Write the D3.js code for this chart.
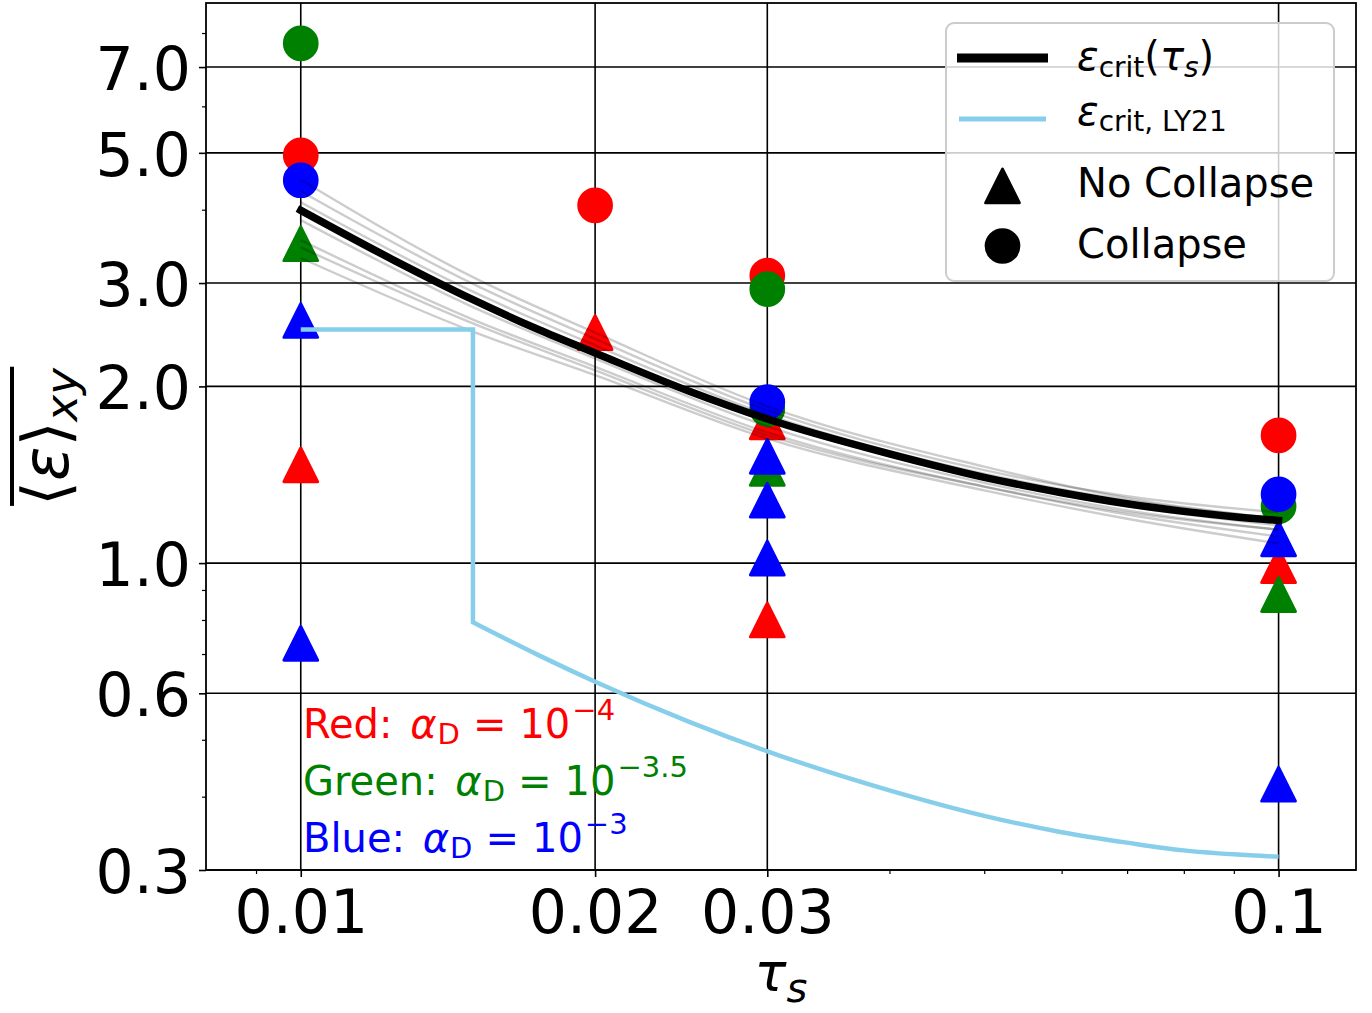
<!DOCTYPE html>
<html>
<head>
<meta charset="utf-8">
<script src="https://cdn.jsdelivr.net/npm/d3@7"></script>
<style>
  html, body { margin: 0; padding: 0; background: #fff; }
  svg { display: block; }
  text { font-family: "DejaVu Sans", sans-serif; white-space: pre; }
</style>
</head>
<body>
<svg id="chart" width="1372" height="1013"></svg>
<script>
// ---------------- data ----------------
const tauTicks = [0.01, 0.02, 0.03, 0.1];
const tauTickLabels = ["0.01", "0.02", "0.03", "0.1"];
const tauMinorTicks = [0.009, 0.04, 0.05, 0.06, 0.07, 0.08, 0.09];
const epsTicks = [0.3, 0.6, 1.0, 2.0, 3.0, 5.0, 7.0];
const epsTickLabels = ["0.3", "0.6", "1.0", "2.0", "3.0", "5.0", "7.0"];
const epsMinorTicks = [0.4, 0.5, 0.7, 0.8, 0.9, 4, 6, 8];

// simulations: Collapse (circles) / No Collapse (triangles)
const redCollapseTau = [0.01, 0.02, 0.03, 0.1];
const redCollapseEps = [4.95, 4.07, 3.09, 1.65];
const redNoCollapseTau = [0.01, 0.02, 0.03, 0.03, 0.1];
const redNoCollapseEps = [1.47, 2.47, 1.74, 0.80, 0.99];
const greenCollapseTau = [0.01, 0.03, 0.03, 0.1];
const greenCollapseEps = [7.68, 2.93, 1.83, 1.25];
const greenNoCollapseTau = [0.01, 0.03, 0.1];
const greenNoCollapseEps = [3.50, 1.45, 0.884];
const blueCollapseTau = [0.01, 0.03, 0.1];
const blueCollapseEps = [4.49, 1.88, 1.31];
const blueNoCollapseTau = [0.01, 0.01, 0.03, 0.03, 0.03, 0.1, 0.1];
const blueNoCollapseEps = [2.59, 0.73, 1.52, 1.28, 1.02, 1.10, 0.42];

// eps_crit(tau_s) fit
const critTau = [0.01, 0.0125, 0.015, 0.0175, 0.02, 0.025, 0.03, 0.04, 0.05, 0.06, 0.07, 0.08, 0.09, 0.1];
const critEps = [3.99, 3.27, 2.81, 2.50, 2.28, 1.96, 1.76, 1.535, 1.40, 1.318, 1.262, 1.225, 1.199, 1.182];

// ensemble of fits (thin grey)
const ensTau = [0.01, 0.015, 0.02, 0.03, 0.05, 0.07, 0.1];
const ens1 = [4.50, 3.07, 2.47, 1.85, 1.46, 1.29, 1.19];
const ens2 = [4.30, 2.99, 2.41, 1.82, 1.44, 1.30, 1.22];
const ens3 = [4.12, 2.90, 2.35, 1.79, 1.42, 1.28, 1.19];
const ens4 = [3.95, 2.80, 2.28, 1.75, 1.39, 1.25, 1.16];
const ens5 = [3.84, 2.73, 2.23, 1.71, 1.37, 1.23, 1.14];
const ens6 = [3.55, 2.60, 2.16, 1.67, 1.35, 1.21, 1.11];
const ens7 = [3.31, 2.48, 2.09, 1.63, 1.33, 1.19, 1.08];
const ens8 = [3.45, 2.56, 2.13, 1.65, 1.35, 1.22, 1.14];

// eps_crit,LY21
const ly21StepTau = [0.01, 0.015, 0.015];
const ly21StepEps = [2.50, 2.50, 0.793];
const ly21CurveTau = [0.015, 0.0175, 0.02, 0.025, 0.03, 0.04, 0.05, 0.06, 0.07, 0.08, 0.09, 0.1];
const ly21CurveEps = [0.793, 0.697, 0.628, 0.536, 0.478, 0.410, 0.371, 0.348, 0.334, 0.324, 0.319, 0.316];

const legendLabels = ["No Collapse", "Collapse"];

// ---------------- chart ----------------
const svg = d3.select("#chart");
const L = 206, R = 1356, T = 3, B = 870;
const x = d3.scaleLog().domain([0.008, 0.12]).range([L, R]);
const y = d3.scaleLog().domain([0.3, 9.0]).range([B, T]);

const zip = (a, b) => a.map((v, i) => [v, b[i]]);

// grid
const grid = svg.append("g");
grid.selectAll("line.gx").data(tauTicks).join("line")
  .attr("x1", d => x(d)).attr("x2", d => x(d)).attr("y1", T).attr("y2", B)
  .attr("stroke", "#000").attr("stroke-width", 1.6);
grid.selectAll("line.gy").data(epsTicks).join("line")
  .attr("y1", d => y(d)).attr("y2", d => y(d)).attr("x1", L).attr("x2", R)
  .attr("stroke", "#000").attr("stroke-width", 1.6);

// axes
const xAxis = d3.axisBottom(x).tickValues(tauTicks).tickFormat((d, i) => tauTickLabels[i])
  .tickSize(7).tickSizeOuter(0).tickPadding(13);
const xMinor = d3.axisBottom(x).tickValues(tauMinorTicks).tickFormat("").tickSize(4).tickSizeOuter(0);
const yAxis = d3.axisLeft(y).tickValues(epsTicks).tickFormat((d, i) => epsTickLabels[i])
  .tickSize(7).tickSizeOuter(0).tickPadding(8);
const yMinor = d3.axisLeft(y).tickValues(epsMinorTicks).tickFormat("").tickSize(4).tickSizeOuter(0);

function styleAxis(g, fs, isY) {
  g.select(".domain").remove();
  g.selectAll(".tick line").attr("stroke", "#000").attr("stroke-width", 1.6);
  g.selectAll(".tick text").attr("font-size", fs).attr("fill", "#000")
    .attr("font-family", "DejaVu Sans");
  if (isY) g.selectAll(".tick text").attr("dy", "0.37em");
}
svg.append("g").attr("transform", `translate(0,${B})`).call(xAxis).call(g => styleAxis(g, 60, false));
svg.append("g").attr("transform", `translate(0,${B})`).call(xMinor).call(g => styleAxis(g, 60, false))
  .selectAll(".tick line").attr("stroke-width", 1.2);
svg.append("g").attr("transform", `translate(${L},0)`).call(yAxis).call(g => styleAxis(g, 60, true));
svg.append("g").attr("transform", `translate(${L},0)`).call(yMinor).call(g => styleAxis(g, 60, true))
  .selectAll(".tick line").attr("stroke-width", 1.2);

// markers
const MS = 16.85, MEW = 2;
function triPath(cx, cy, h) {
  const p = d3.path();
  p.moveTo(cx, cy - h); p.lineTo(cx - h, cy + h); p.lineTo(cx + h, cy + h); p.closePath();
  return p.toString();
}
const markers = svg.append("g");
function drawCircles(tau, eps, color) {
  markers.append("g").selectAll("circle").data(zip(tau, eps)).join("circle")
    .attr("cx", d => x(d[0])).attr("cy", d => y(d[1])).attr("r", MS)
    .attr("fill", color).attr("stroke", color).attr("stroke-width", MEW);
}
function drawTris(tau, eps, color) {
  markers.append("g").selectAll("path").data(zip(tau, eps)).join("path")
    .attr("d", d => triPath(x(d[0]), y(d[1]), MS))
    .attr("fill", color).attr("stroke", color).attr("stroke-width", MEW + 1)
    .attr("stroke-linejoin", "round");
}
drawCircles(redCollapseTau, redCollapseEps, "#ff0000");
drawTris(redNoCollapseTau, redNoCollapseEps, "#ff0000");
drawCircles(greenCollapseTau, greenCollapseEps, "#008000");
drawTris(greenNoCollapseTau, greenNoCollapseEps, "#008000");
drawCircles(blueCollapseTau, blueCollapseEps, "#0000ff");
drawTris(blueNoCollapseTau, blueNoCollapseEps, "#0000ff");

// lines
const line = d3.line().x(d => x(d[0])).y(d => y(d[1])).curve(d3.curveMonotoneX);
const lineLin = d3.line().x(d => x(d[0])).y(d => y(d[1]));
const lines = svg.append("g").attr("fill", "none");

lines.append("path").attr("d", line(zip(critTau, critEps)))
  .attr("stroke", "#000").attr("stroke-width", 7.5).attr("stroke-linecap", "square");
[ens1, ens2, ens3, ens4, ens5, ens6, ens7, ens8].forEach(e => {
  lines.append("path").attr("d", line(zip(ensTau, e)))
    .attr("stroke", "#000").attr("stroke-opacity", 0.2).attr("stroke-width", 2.4);
});
const stepD = lineLin(zip(ly21StepTau, ly21StepEps));
const curveD = line(zip(ly21CurveTau, ly21CurveEps)).replace(/^M/, "L");
lines.append("path").attr("d", stepD + curveD)
  .attr("stroke", "#87ceeb").attr("stroke-width", 4.5).attr("stroke-linejoin", "miter");

// spines
svg.append("rect").attr("x", L).attr("y", T).attr("width", R - L).attr("height", B - T)
  .attr("fill", "none").attr("stroke", "#000").attr("stroke-width", 1.8);

// rich text helper
function rich(sel, parts) {
  parts.forEach(p => {
    const t = sel.append("tspan").text(p.t)
      .attr("font-style", p.it ? "italic" : "normal");
    if (p.fs) t.attr("font-size", p.fs);
    if (p.dy) t.attr("dy", p.dy);
    if (p.dx) t.attr("dx", p.dx);
  });
  return sel;
}

// axis labels
rich(svg.append("text").attr("x", (L + R) / 2).attr("y", 991).attr("text-anchor", "middle")
  .attr("font-size", 53).attr("fill", "#000"),
  [{t: "τ", it: true}, {t: "s", it: true, fs: 40, dy: 11}]);

const yl = svg.append("g").attr("transform", "translate(68,437) rotate(-90)");
const ylt = rich(yl.append("text").attr("x", 0).attr("y", 0).attr("text-anchor", "middle")
  .attr("font-size", 64).attr("fill", "#000"),
  [{t: "⟨"}, {t: "ε", it: true}, {t: "⟩"}, {t: "xy", it: true, fs: 45, dy: 9}]);
const bb = ylt.node().getBBox();
yl.append("line").attr("x1", bb.x).attr("x2", bb.x + bb.width)
  .attr("y1", -56).attr("y2", -56).attr("stroke", "#000").attr("stroke-width", 4);

// annotations
const annot = [
  {label: "Red:", exp: "−4", color: "#ff0000"},
  {label: "Green:", exp: "−3.5", color: "#008000"},
  {label: "Blue:", exp: "−3", color: "#0000ff"}
];
const annY = [738, 795, 852];
annot.forEach((a, i) => {
  rich(svg.append("text").attr("x", 303).attr("y", annY[i]).attr("font-size", 40).attr("fill", a.color),
    [{t: a.label + " "}, {t: "α", it: true, dx: 5}, {t: "D", fs: 29, dy: 6, dx: 1},
     {t: "=", dy: -6, dx: 13}, {t: "10", dx: 13}, {t: a.exp, fs: 29, dy: -18, dx: 2}]);
});

// legend
const lg = svg.append("g");
lg.append("rect").attr("x", 946).attr("y", 23).attr("width", 388).attr("height", 258).attr("rx", 8)
  .attr("fill", "#fff").attr("fill-opacity", 0.8).attr("stroke", "#cccccc").attr("stroke-width", 2);
lg.append("line").attr("x1", 957).attr("x2", 1048).attr("y1", 58).attr("y2", 58)
  .attr("stroke", "#000").attr("stroke-width", 9);
lg.append("line").attr("x1", 959).attr("x2", 1046).attr("y1", 119).attr("y2", 119)
  .attr("stroke", "#87ceeb").attr("stroke-width", 5);
lg.append("path").attr("d", triPath(1002.5, 186, MS)).attr("fill", "#000").attr("stroke", "#000")
  .attr("stroke-width", MEW + 1).attr("stroke-linejoin", "round");
lg.append("circle").attr("cx", 1002.5).attr("cy", 246).attr("r", MS).attr("fill", "#000")
  .attr("stroke", "#000").attr("stroke-width", MEW);
rich(lg.append("text").attr("x", 1077).attr("y", 70).attr("font-size", 40).attr("fill", "#000"),
  [{t: "ε", it: true}, {t: "crit", fs: 28, dy: 7}, {t: "(", dy: -7}, {t: "τ", it: true},
   {t: "s", it: true, fs: 28, dy: 7}, {t: ")", dy: -7}]);
rich(lg.append("text").attr("x", 1077).attr("y", 125).attr("font-size", 40).attr("fill", "#000"),
  [{t: "ε", it: true}, {t: "crit, LY21", fs: 28, dy: 6}]);
lg.append("text").attr("x", 1077).attr("y", 197).attr("font-size", 40).attr("fill", "#000").text(legendLabels[0]);
lg.append("text").attr("x", 1077).attr("y", 258).attr("font-size", 40).attr("fill", "#000").text(legendLabels[1]);
</script>
</body>
</html>
